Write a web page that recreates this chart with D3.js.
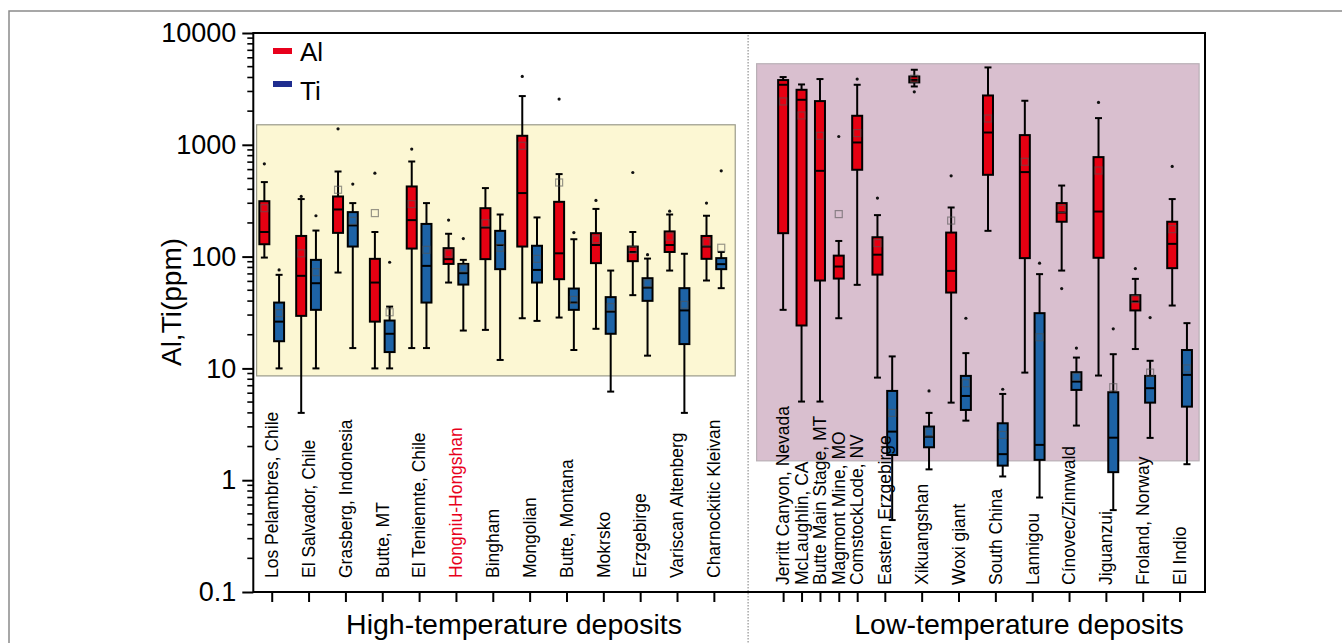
<!DOCTYPE html>
<html>
<head>
<meta charset="utf-8">
<script src="https://cdn.jsdelivr.net/npm/d3@7"></script>
<style>
  html, body { margin: 0; padding: 0; background: #fff; }
  svg { display: block; font-family: "Liberation Sans", Arial, sans-serif; }
</style>
</head>
<body>
<svg id="chart" width="1342" height="643"></svg>
<script>
// Deposit names, in plotting order
const categories = [
  "Los Pelambres, Chile", "El Salvador, Chile", "Grasberg, Indonesia", "Butte, MT",
  "El Teniennte, Chile", "Hongniu-Hongshan", "Bingham", "Mongolian", "Butte, Montana",
  "Mokrsko", "Erzgebirge", "Variscan Altenberg", "Charnockitic Kleivan",
  "Jerritt Canyon, Nevada", "McLaughlin, CA", "Butte Main Stage, MT", "Magmont Mine, MO",
  "ComstockLode, NV", "Eastern Erzgebirge", "Xikuangshan", "Woxi giant", "South China",
  "Lannigou", "Cínovec/Zinnwald", "Jiguanzui", "Froland, Norway", "El Indio"
];
// Category slot on the x axis (deposit index units)
const slots = [
  0, 1, 2, 3, 4, 5, 6, 7, 8, 9, 10, 11, 12,
  13.88, 14.38, 14.88, 15.39, 15.89,
  16.64, 17.64, 18.64, 19.64, 20.64, 21.64, 22.64, 23.64, 24.64
];
const highlighted = "Hongniu-Hongshan";
const groupTitles = ["High-temperature deposits", "Low-temperature deposits"];
const groupOf = [0,0,0,0,0,0,0,0,0,0,0,0,0, 1,1,1,1,1,1,1,1,1,1,1,1,1,1];

// Box statistics per deposit: [whisker low, Q1, median, Q3, whisker high, mean] (ppm)
const alStats = [
  [98, 129, 166, 313, 464, 271],
  [4.0, 29.5, 67.3, 153, 327, 107],
  [72, 163, 264, 345, 577, 396],
  [10, 26.2, 58.6, 95.5, 166, 245],
  [15.2, 118, 212, 424, 709, 295],
  [58.6, 86, 94.9, 119, 160, 107],
  [22.1, 94.9, 182, 271, 410, 199],
  [28.1, 123, 370, 1204, 2728, 980],
  [28.5, 62.8, 107, 309, 547, 460],
  [22.6, 87.4, 127, 162, 267, 143],
  [45.2, 91, 110, 123, 166, 115],
  [75, 110, 127, 168, 238, 151],
  [61.1, 95.5, 123, 153, 232, 134],
  [33.4, 162, 3443, 3793, 4036, 2442],
  [5.05, 24.2, 2528, 3105, 3466, 1829],
  [5.05, 61.1, 585, 2460, 3873, 1204],
  [28.1, 63.6, 81.5, 102, 138, 240],
  [55.9, 598, 1049, 1818, 3443, 1273],
  [8.27, 69, 104, 149, 235, 132],
  [3325, 3614, 3810, 4085, 4690, 3900],
  [4.94, 47.7, 74.5, 164, 275, 210],
  [170, 539, 1288, 2762, 4921, 1719],
  [9.17, 96.9, 570, 1221, 2477, 705],
  [75, 205, 248, 301, 432, 267],
  [8.63, 97.6, 253, 776, 1733, 589],
  [14.9, 33, 39.6, 45.2, 63.2, 41.6],
  [36.5, 78.8, 130, 205, 327, 176]
];
const alOutliers = [
  [676], [345], [1390], [558], [915], [212], [], [4085], [2566], [318], [565], [255], [301],
  [], [], [], [1187], [3873], [334], [2980], [528], [], [], [51.8], [2391], [78.2], [640]
];
const tiStats = [
  [10, 17.5, 26.2, 38.8, 68.7, 31.2],
  [10, 33.4, 57.8, 93.5, 171, 72.6],
  [15.2, 123, 190, 250, 301, 209],
  [10, 14.0, 20.4, 26.8, 35.7, 31.8],
  [15.2, 38.8, 82.6, 196, 301, 115],
  [21.8, 56.2, 71.1, 86, 93.5, 78.8],
  [11.9, 77.2, 127, 170, 238, 120],
  [26.6, 58.6, 76, 125, 224, 95.5],
  [14.6, 33.4, 38.8, 51.8, 143, 41],
  [6.2, 20.4, 32.2, 43.4, 75, 35.4],
  [13.0, 40.2, 52.8, 64.1, 96, 57.8],
  [4.0, 16.5, 33, 52.2, 106, 37],
  [52.2, 77.2, 85.6, 96.9, 110, 120],
  null, null, null, null, null,
  [0.44, 1.68, 2.72, 6.29, 12.8, 4.0],
  [1.25, 1.97, 2.45, 3.02, 4.0, 2.67],
  [3.41, 4.25, 5.67, 8.57, 13.7, 7.37],
  [1.08, 1.35, 1.71, 3.23, 5.91, 2.54],
  [0.70, 1.52, 2.07, 31.2, 69.7, 19.0],
  [3.08, 6.42, 7.62, 9.25, 12.5, 8.4],
  [0.54, 1.18, 2.40, 6.12, 13.4, 6.79],
  [2.39, 4.94, 6.65, 8.57, 11.7, 9.17],
  [1.39, 4.55, 8.75, 14.6, 25.4, 10]
];
const tiOutliers = [
  [76], [232], [445], [89], [], [145], [], [], [164], [], [104], [], [585],
  [], [], [], [], [], [], [6.29], [28.1], [6.51], [87.4], [15.2], [22.6], [28.5], []
];

// Shaded temperature fields: [slot from, slot to, ppm low, ppm high]
const fields = [
  [-0.41, 12.58, 8.57, 1510],
  [13.16, 25.17, 1.49, 5310]
];
const fieldColors = ["#fcf7d3", "#d9bfcf"];
const dividerSlot = 12.93;

const yTicks = [0.1, 1, 10, 100, 1000, 10000];
const series = [
  { name: "Al", stats: alStats, outliers: alOutliers, color: "#e60012", legend: "#e8001c" },
  { name: "Ti", stats: tiStats, outliers: tiOutliers, color: "#1d63a6", legend: "#1f2d8f" }
];

(function draw() {
  const svg = d3.select("#chart");
  const pL = 253.3, pR = 1205, pT = 33, pB = 592;

  const x = d3.scaleLinear().domain([-0.5, 25.33]).range([pL, pR]);
  const y = d3.scaleLog().domain([0.1, 10000]).range([pB, pT]);

  // outer figure border
  svg.append("path")
    .attr("d", "M9,643V11H1342")
    .attr("fill", "none").attr("stroke", "#8a8a8a").attr("stroke-width", 1.5);

  // shaded fields
  svg.append("g").selectAll("rect").data(fields).join("rect")
    .attr("x", d => x(d[0]))
    .attr("width", d => x(d[1]) - x(d[0]))
    .attr("y", d => y(d[3]))
    .attr("height", d => y(d[2]) - y(d[3]))
    .attr("fill", (d, i) => fieldColors[i])
    .attr("stroke", (d, i) => i === 0 ? "#9a9a8a" : "#b9b0b6")
    .attr("stroke-width", 1.2);

  // dotted divider between the two deposit groups
  svg.append("line")
    .attr("x1", x(dividerSlot)).attr("x2", x(dividerSlot))
    .attr("y1", pT + 2).attr("y2", 643)
    .attr("stroke", "#a8a8a8").attr("stroke-width", 1.5)
    .attr("stroke-dasharray", "1.5,1.5");

  // ---------- boxes ----------
  const boxW = 10, capW = 7;
  const boxes = svg.append("g");

  series.forEach((s, si) => {
    s.stats.forEach((st, i) => {
      if (!st) return;
      const paired = alStats[i] && tiStats[i];
      const off = paired ? (si === 0 ? -0.2 : 0.2) : 0;
      const cx = x(slots[i] + off);
      const [lo, q1, med, q3, hi, mean] = st;
      const g = boxes.append("g");
      // whiskers
      g.append("line").attr("x1", cx).attr("x2", cx).attr("y1", y(hi)).attr("y2", y(q3))
        .attr("stroke", "#000").attr("stroke-width", 2);
      g.append("line").attr("x1", cx).attr("x2", cx).attr("y1", y(q1)).attr("y2", y(lo))
        .attr("stroke", "#000").attr("stroke-width", 2);
      [lo, hi].forEach(v => {
        g.append("line").attr("x1", cx - capW / 2).attr("x2", cx + capW / 2)
          .attr("y1", y(v)).attr("y2", y(v))
          .attr("stroke", "#000").attr("stroke-width", 2);
      });
      // box
      g.append("rect")
        .attr("x", cx - boxW / 2).attr("width", boxW)
        .attr("y", y(q3)).attr("height", Math.max(1, y(q1) - y(q3)))
        .attr("fill", s.color).attr("stroke", "#000").attr("stroke-width", 2);
      // median
      g.append("line").attr("x1", cx - boxW / 2).attr("x2", cx + boxW / 2)
        .attr("y1", y(med)).attr("y2", y(med))
        .attr("stroke", "#000").attr("stroke-width", 2);
      // mean
      g.append("rect")
        .attr("x", cx - 3.5).attr("y", y(mean) - 3.5)
        .attr("width", 7).attr("height", 7)
        .attr("fill", "none").attr("stroke", "#555").attr("stroke-opacity", 0.6)
        .attr("stroke-width", 1.2);
      // extreme values
      g.selectAll("circle").data(s.outliers[i]).join("circle")
        .attr("cx", cx).attr("cy", d => y(d)).attr("r", 1.6).attr("fill", "#111");
    });
  });

  // ---------- axes ----------
  const yAxis = d3.axisLeft(y)
    .tickValues(yTicks)
    .tickFormat(d => d < 1 ? "0.1" : d3.format("d")(d))
    .tickSize(11).tickSizeOuter(0).tickPadding(6);
  const gy = svg.append("g").attr("transform", `translate(${pL},0)`).call(yAxis);
  gy.select(".domain").remove();
  gy.selectAll(".tick line").attr("stroke", "#000").attr("stroke-width", 2);
  gy.selectAll(".tick text").attr("font-size", 27).attr("fill", "#000")
    .attr("font-family", "'Liberation Sans', Arial, sans-serif");

  // minor log ticks
  const minor = [];
  for (let e = -1; e < 4; e++) for (let m = 2; m <= 9; m++) minor.push(m * Math.pow(10, e));
  svg.append("g").selectAll("line").data(minor).join("line")
    .attr("x1", pL - 6).attr("x2", pL)
    .attr("y1", d => y(d)).attr("y2", d => y(d))
    .attr("stroke", "#000").attr("stroke-width", 1.6);

  const xAxis = d3.axisBottom(x).tickValues(slots).tickFormat("").tickSize(10).tickSizeOuter(0);
  const gx = svg.append("g").attr("transform", `translate(0,${pB})`).call(xAxis);
  gx.select(".domain").remove();
  gx.selectAll(".tick line").attr("stroke", "#000").attr("stroke-width", 2);

  // frame
  svg.append("rect")
    .attr("x", pL).attr("y", pT).attr("width", pR - pL).attr("height", pB - pT)
    .attr("fill", "none").attr("stroke", "#000").attr("stroke-width", 2);

  // category labels (vertical, inside plot)
  svg.append("g").selectAll("text").data(categories).join("text")
    .attr("transform", (d, i) => `translate(${x(slots[i])},${groupOf[i] === 0 ? 578 : 585}) rotate(-90)`)
    .attr("dy", "0.36em")
    .attr("font-size", 17.5)
    .attr("fill", d => d === highlighted ? "#e8001c" : "#000")
    .text(d => d);

  // group titles
  const titleX = [514, 1019];
  svg.append("g").selectAll("text").data(groupTitles).join("text")
    .attr("x", (d, i) => titleX[i]).attr("y", 634)
    .attr("text-anchor", "middle").attr("font-size", 28.5).attr("fill", "#000")
    .text(d => d);

  // y axis title
  svg.append("text")
    .attr("transform", "translate(181,302) rotate(-90)")
    .attr("text-anchor", "middle").attr("font-size", 28).attr("fill", "#000")
    .text("Al,Ti(ppm)");

  // legend
  const legendY = [51, 84];
  const legendTextY = [61, 100];
  const lg = svg.append("g");
  series.forEach((s, i) => {
    lg.append("rect").attr("x", 273).attr("y", legendY[i] - 3).attr("width", 19).attr("height", 6)
      .attr("fill", s.legend);
    lg.append("text").attr("x", 300).attr("y", legendTextY[i])
      .attr("font-size", 26).attr("fill", "#000").text(s.name);
  });
})();
</script>
</body>
</html>
